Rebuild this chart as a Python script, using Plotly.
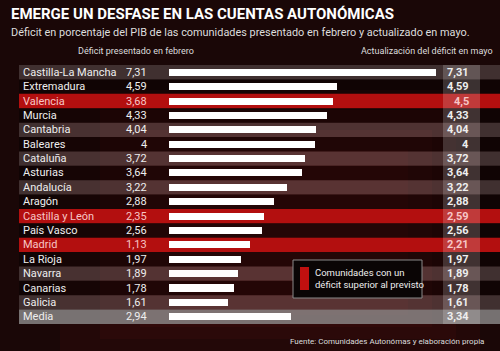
import plotly.graph_objects as go

regions = ["Castilla-La Mancha", "Extremadura", "Valencia", "Murcia", "Cantabria",
           "Baleares", "Cataluña", "Asturias", "Andalucía", "Aragón", "Castilla y León",
           "País Vasco", "Madrid", "La Rioja", "Navarra", "Canarias", "Galicia", "Media"]
feb_values = [7.31, 4.59, 3.68, 4.33, 4.04, 4, 3.72, 3.64, 3.22, 2.88, 2.35,
              2.56, 1.13, 1.97, 1.89, 1.78, 1.61, 2.94]
may_values = [7.31, 4.59, 4.5, 4.33, 4.04, 4, 3.72, 3.64, 3.22, 2.88, 2.59,
              2.56, 2.21, 1.97, 1.89, 1.78, 1.61, 3.34]
highlighted = ["Valencia", "Castilla y León", "Madrid"]

title = "EMERGE UN DESFASE EN LAS CUENTAS AUTONÓMICAS"
subtitle = "Déficit en porcentaje del PIB de las comunidades presentado en febrero y actualizado en mayo."
header_left = "Déficit presentado en febrero"
header_right = "Actualización del déficit en mayo"
legend_text = "Comunidades con un<br>déficit superior al previsto"
source = "Fuente: Comunidades Autonómas y elaboración propia"

W, H = 500, 351
FONT = "Roboto"
px_per_unit = 36.5
x0_px = 169
row_px = 14.38
y0_px = 72.3

def fmt(v):
    return f"{v:g}".replace(".", ",")

idx = list(range(len(regions)))

fig = go.Figure()
fig.add_trace(go.Bar(
    x=may_values, y=idx, orientation="h", width=0.49,
    marker=dict(color="white", line=dict(width=0)), hoverinfo="skip"))

shapes = []
# background glow
for i, (op, pad) in enumerate([(0.10, 0), (0.10, 40), (0.10, 80), (0.10, 120)]):
    shapes.append(dict(type="rect", xref="paper", yref="paper", layer="below",
                       x0=(60 + pad) / W, x1=(W - 20 - pad * 0.6) / W,
                       y0=(pad * 0.3) / H, y1=1 - (90 + pad * 0.5) / H,
                       fillcolor=f"rgba(120,15,15,{op})", line=dict(width=0)))

for i, name in enumerate(regions):
    if name in highlighted:
        col = "#b30f0f"
    elif name == "Media":
        col = "rgba(150,150,150,0.75)"
    elif i % 2 == 0:
        col = "rgba(255,255,255,0.17)"
    else:
        col = "rgba(0,0,0,0.35)"
    shapes.append(dict(type="rect", xref="paper", yref="y", layer="below",
                       x0=19 / W, x1=1, y0=i - 0.5, y1=i + 0.5,
                       fillcolor=col, line=dict(width=0)))
# right column band
shapes.append(dict(type="rect", xref="paper", yref="y", layer="below",
                   x0=443 / W, x1=480 / W, y0=-0.5, y1=len(regions) - 0.5,
                   fillcolor="rgba(255,255,255,0.18)", line=dict(width=0)))
# legend box
shapes.append(dict(type="rect", xref="paper", yref="paper", layer="above",
                   x0=293 / W, x1=422 / W, y0=1 - 298 / H, y1=1 - 260 / H,
                   fillcolor="#0a0505", line=dict(color="#8a8a8a", width=1)))
shapes.append(dict(type="rect", xref="paper", yref="paper", layer="above",
                   x0=300 / W, x1=309 / W, y0=1 - 290 / H, y1=1 - 267 / H,
                   fillcolor="#c0100f", line=dict(width=0)))

ann = []
for i, name in enumerate(regions):
    hl = name in highlighted
    tcol = "#f7c6c6" if hl else "#eeeeee"
    ann.append(dict(xref="paper", yref="y", x=21 / W, y=i, text=name, showarrow=False,
                    xanchor="left", yanchor="middle",
                    font=dict(family=FONT, size=11, color=tcol)))
    ann.append(dict(xref="paper", yref="y", x=149 / W, y=i, text=fmt(feb_values[i]),
                    showarrow=False, xanchor="right", yanchor="middle",
                    font=dict(family=FONT, size=11, color=tcol)))
    ann.append(dict(xref="paper", yref="y", x=471 / W, y=i,
                    text="<b>" + fmt(may_values[i]) + "</b>",
                    showarrow=False, xanchor="right", yanchor="middle",
                    font=dict(family=FONT, size=11, color=tcol)))

ann += [
    dict(xref="paper", yref="paper", x=9 / W, y=1 - 14 / H, text="<b>" + title + "</b>",
         showarrow=False, xanchor="left", yanchor="middle",
         font=dict(family=FONT, size=15, color="white")),
    dict(xref="paper", yref="paper", x=9 / W, y=1 - 32 / H, text=subtitle,
         showarrow=False, xanchor="left", yanchor="middle",
         font=dict(family=FONT, size=10.9, color="#dddddd")),
    dict(xref="paper", yref="paper", x=136 / W, y=1 - 51 / H, text=header_left,
         showarrow=False, xanchor="center", yanchor="middle",
         font=dict(family=FONT, size=9, color="#dddddd")),
    dict(xref="paper", yref="paper", x=495 / W, y=1 - 51 / H, text=header_right,
         showarrow=False, xanchor="right", yanchor="middle",
         font=dict(family=FONT, size=9, color="#dddddd")),
    dict(xref="paper", yref="paper", x=313 / W, y=1 - 278.5 / H, text=legend_text,
         showarrow=False, xanchor="left", yanchor="middle", align="left",
         font=dict(family=FONT, size=9.5, color="#eeeeee")),
    dict(xref="paper", yref="paper", x=486 / W, y=1 - 341 / H, text=source,
         showarrow=False, xanchor="right", yanchor="middle",
         font=dict(family=FONT, size=8, color="#dddddd")),
]

x_lo = -x0_px / px_per_unit
x_hi = (W - x0_px) / px_per_unit
y_top = -y0_px / row_px
y_bot = (H - y0_px) / row_px

fig.update_layout(
    width=W, height=H, margin=dict(l=0, r=0, t=0, b=0),
    paper_bgcolor="#1a0707", plot_bgcolor="rgba(0,0,0,0)",
    showlegend=False, shapes=shapes, annotations=ann, bargap=0,
    xaxis=dict(range=[x_lo, x_hi], visible=False, fixedrange=True),
    yaxis=dict(range=[y_bot, y_top], visible=False, fixedrange=True),
)
fig.write_html("out.html")
